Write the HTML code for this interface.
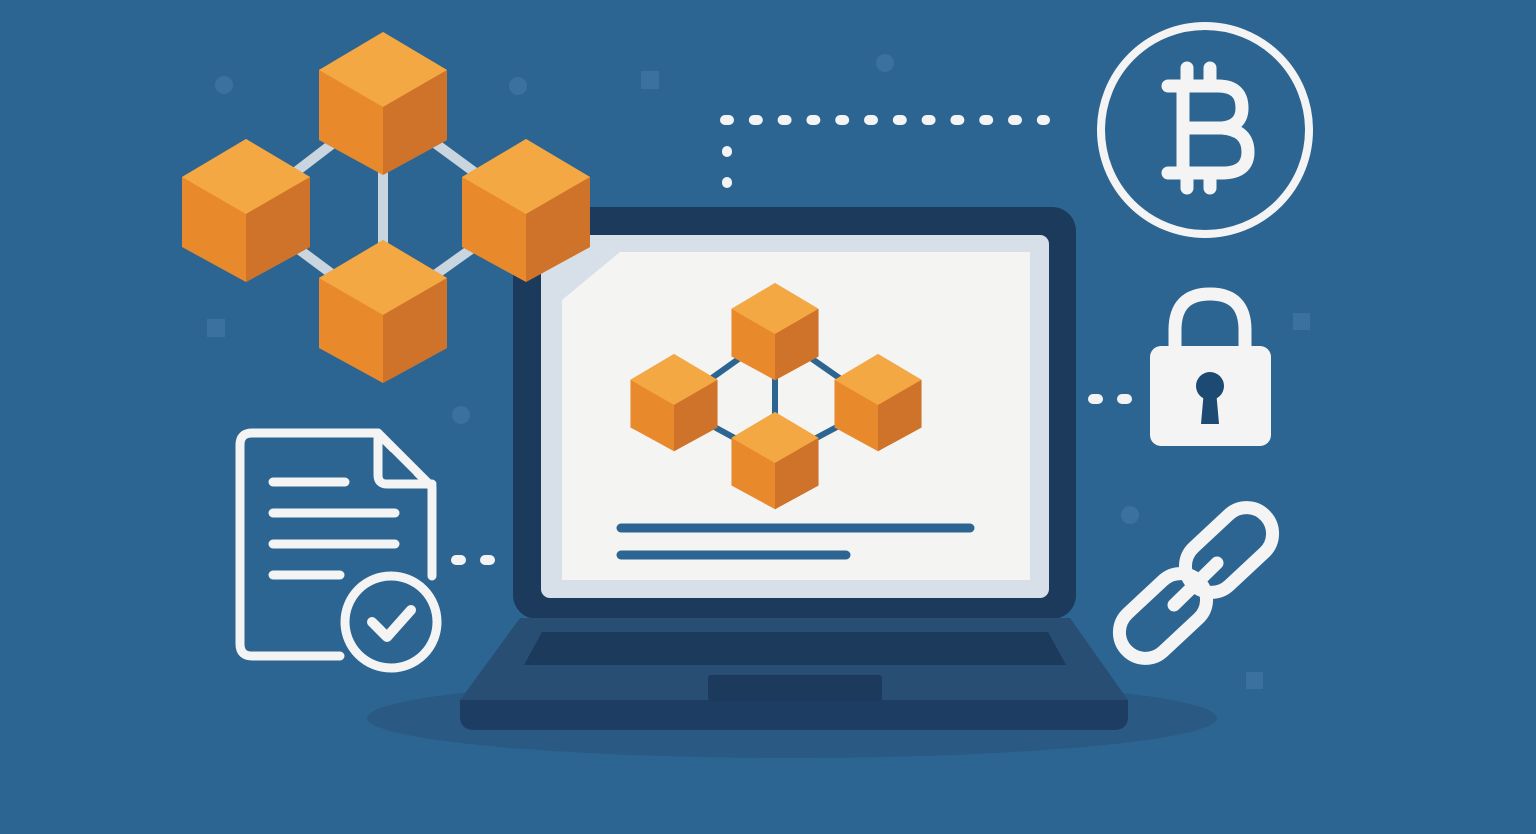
<!DOCTYPE html>
<html><head><meta charset="utf-8"><style>html,body{margin:0;padding:0;background:#2d6592;}svg{display:block}</style></head>
<body>
<svg width="1536" height="834" viewBox="0 0 1536 834" xmlns="http://www.w3.org/2000/svg">
<defs>
<g id="cube">
<polygon points="0,0 64,38 64,108 0,143 -64,108 -64,38" fill="#e8892c"/>
<polygon points="0,0 64,38 0,75 -64,38" fill="#f3a843"/>
<polygon points="0,75 64,38 64,108 0,143" fill="#cf732a"/>
</g>
</defs>
<rect width="1536" height="834" fill="#2d6592"/>
<g fill="#3a719e">
<circle cx="224" cy="85" r="9"/><circle cx="518" cy="86" r="9"/><circle cx="885" cy="63" r="9"/><circle cx="461" cy="415" r="9"/><circle cx="1130" cy="515" r="9"/>
<rect x="641" y="71" width="18" height="18"/><rect x="207" y="319" width="18" height="18"/><rect x="1293" y="313" width="17" height="17"/><rect x="1246" y="672" width="17" height="17"/>
</g>
<!-- laptop -->
<ellipse cx="792" cy="718" rx="425" ry="40" fill="#2a5a84"/>
<rect x="513" y="207" width="563" height="412" rx="24" fill="#1b3a5c"/>
<rect x="541" y="235" width="508" height="363" rx="9" fill="#d7e0e8"/>
<polygon points="562,300 620,252 1030,252 1030,580 562,580" fill="#f4f4f3"/>
<polygon points="520,618 1070,618 1128,700 460,700" fill="#284f73"/>
<path d="M460,700 H1128 V716 Q1128,730 1114,730 H474 Q460,730 460,716 Z" fill="#1d3e62"/>
<polygon points="542,632 1048,632 1066,665 524,665" fill="#1b3a5c"/>
<rect x="708" y="675" width="174" height="26" rx="3" fill="#1b3a5c"/>
<g stroke="#2d6592" stroke-width="6" fill="none">
<polygon points="775,333 878,405 775,460 674,405"/>
<line x1="775" y1="333" x2="775" y2="460"/>
</g>
<use href="#cube" transform="translate(775,283) scale(0.68)"/>
<use href="#cube" transform="translate(674,354) scale(0.68)"/>
<use href="#cube" transform="translate(878,354) scale(0.68)"/>
<use href="#cube" transform="translate(775,412) scale(0.68)"/>
<g stroke="#2d6592" stroke-width="9" stroke-linecap="round">
<line x1="621" y1="528" x2="970" y2="528"/>
<line x1="621" y1="555" x2="846" y2="555"/>
</g>
<!-- big network -->
<g stroke="#c9d6e0" stroke-width="10" fill="none">
<polygon points="383,105 526,210 383,312 246,210"/>
<line x1="383" y1="105" x2="383" y2="312"/>
</g>
<use href="#cube" x="383" y="32"/>
<use href="#cube" x="246" y="139"/>
<use href="#cube" x="526" y="139"/>
<use href="#cube" x="383" y="240"/>
<!-- dotted connectors -->
<g stroke="#f4f4f4" stroke-width="10" stroke-linecap="round">
<line x1="725" y1="120" x2="1045" y2="120" stroke-dasharray="4,24.8"/>
<line x1="727" y1="151" x2="727" y2="152"/><line x1="727" y1="182" x2="727" y2="183"/>
<line x1="1093" y1="399" x2="1098" y2="399"/><line x1="1122" y1="399" x2="1127" y2="399"/>
<line x1="456" y1="560" x2="461" y2="560"/><line x1="485" y1="560" x2="490" y2="560"/>
</g>
<!-- bitcoin -->
<circle cx="1205" cy="130" r="104" fill="none" stroke="#f4f4f4" stroke-width="8"/>
<g fill="none" stroke="#f4f4f4" stroke-width="13" stroke-linecap="round" stroke-linejoin="round">
<path d="M1168,86 H1218 Q1242,86 1242,108 Q1242,126 1222,128 Q1248,130 1248,152 Q1248,173 1222,173 H1168"/>
<line x1="1183" y1="88" x2="1183" y2="171"/>
<line x1="1183" y1="128" x2="1222" y2="128"/>
<line x1="1187" y1="68" x2="1187" y2="86"/><line x1="1210" y1="68" x2="1210" y2="86"/>
<line x1="1187" y1="173" x2="1187" y2="188"/><line x1="1210" y1="173" x2="1210" y2="188"/>
</g>
<!-- lock -->
<path d="M1175,350 V330 Q1175,294 1210,294 Q1245,294 1245,330 V350" fill="none" stroke="#f4f4f4" stroke-width="13"/>
<rect x="1150" y="346" width="121" height="100" rx="11" fill="#f4f4f4"/>
<circle cx="1210" cy="386" r="14" fill="#1d4a72"/>
<polygon points="1204,390 1216,390 1219,424 1201,424" fill="#1d4a72"/>
<!-- chain -->
<g fill="none" stroke="#f4f4f4" stroke-width="13">
<rect x="-50" y="-26" width="100" height="52" rx="26" transform="translate(1229,550) rotate(-43)"/>
<rect x="-50" y="-26" width="100" height="52" rx="26" transform="translate(1163,616) rotate(-43)"/>
</g>
<line x1="1174" y1="605" x2="1217" y2="563" stroke="#f4f4f4" stroke-width="13" stroke-linecap="round"/>
<!-- document -->
<g fill="none" stroke="#f4f4f4" stroke-width="9" stroke-linecap="round" stroke-linejoin="round">
<path d="M340,656 H252 Q240,656 240,644 V445 Q240,433 252,433 H378 L432,487 V576"/>
<path d="M378,433 V475 Q378,484 387,484 H432"/>
<line x1="273" y1="482" x2="345" y2="482"/>
<line x1="273" y1="513" x2="395" y2="513"/>
<line x1="273" y1="544" x2="395" y2="544"/>
<line x1="273" y1="575" x2="340" y2="575"/>
</g>
<polygon points="391,452 391,475 414,475" fill="#2d6592"/>
<circle cx="391" cy="622" r="46" fill="#2d6592" stroke="#f4f4f4" stroke-width="9"/>
<path d="M372,622 L387,637 L411,610" fill="none" stroke="#f4f4f4" stroke-width="10" stroke-linecap="round" stroke-linejoin="round"/>
</svg>
</body></html>
